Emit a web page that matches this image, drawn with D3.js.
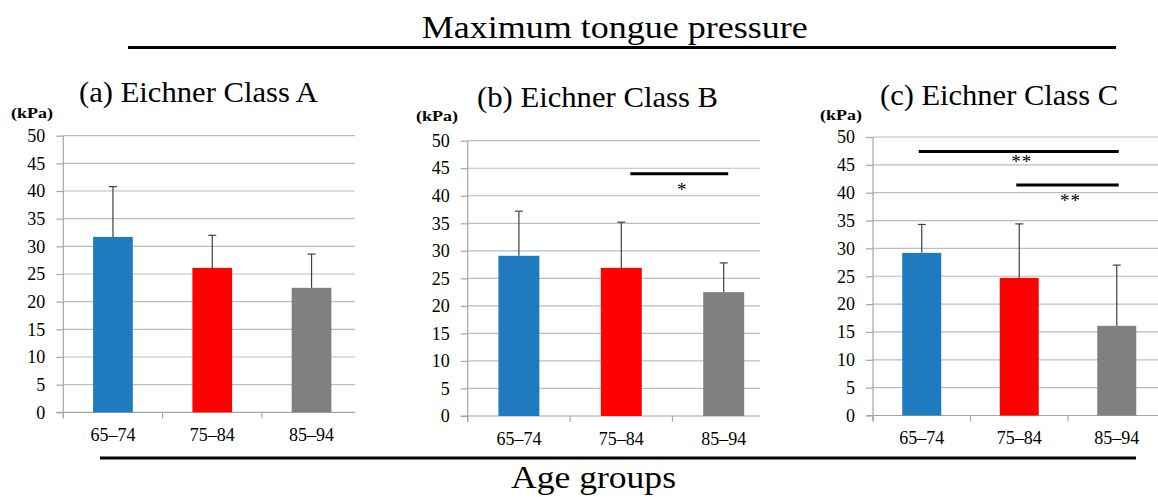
<!DOCTYPE html>
<html>
<head>
<meta charset="utf-8">
<script src="https://cdn.jsdelivr.net/npm/d3@7"></script>
<style>
  html, body { margin: 0; padding: 0; background: #fff; }
  svg { display: block; }
  text { font-family: "Liberation Serif", "Times New Roman", serif; fill: #000; }
</style>
</head>
<body>
<svg id="chart" width="1158" height="497"></svg>
<script>
// ---------- DATA ----------
const categories = ["65–74", "75–84", "85–94"];
const panelTitles = ["(a) Eichner Class A", "(b) Eichner Class B", "(c) Eichner Class C"];
const yTicks = [0, 5, 10, 15, 20, 25, 30, 35, 40, 45, 50];
const meanA = [31.7, 26.1, 22.5];
const sdA   = [9.1, 5.9, 6.1];
const meanB = [29.1, 26.9, 22.5];
const sdB   = [8.1, 8.3, 5.3];
const meanC = [29.2, 24.7, 16.1];
const sdC   = [5.1, 9.7, 10.9];
const sigA = [];
const sigB = [{ from: "75–84", to: "85–94", level: 44.0, label: "*" }];
const sigC = [
  { from: "65–74", to: "85–94", level: 47.4, label: "**" },
  { from: "75–84", to: "85–94", level: 41.4, label: "**" }
];
const barColors = ["#1f7bbf", "#ff0000", "#808080"];
const mainTitle = "Maximum tongue pressure";
const xTitle = "Age groups";
const unitLabel = "(kPa)";

// ---------- LAYOUT ----------
const panels = [
  { means: meanA, sds: sdA, sig: sigA, title: panelTitles[0],
    left: 63.3, band: 99.3, y0: 412.3, y50: 135.7, gridEnd: 355,
    titleX: 79, titleW: 239, titleY: 102, kpaX: 11, kpaY: 118,
    sigDx: [0, 0], sigLabelDy: [] },
  { means: meanB, sds: sdB, sig: sigB, title: panelTitles[1],
    left: 467.7, band: 102.4, y0: 416, y50: 140.7, gridEnd: 760,
    titleX: 477, titleW: 241, titleY: 107, kpaX: 416, kpaY: 121,
    sigDx: [9, 4.5], sigLabelDy: [22] },
  { means: meanC, sds: sdC, sig: sigC, title: panelTitles[2],
    left: 873, band: 97.5, y0: 415.5, y50: 137, gridEnd: 1158,
    titleX: 880, titleW: 238, titleY: 105, kpaX: 820, kpaY: 120,
    sigDx: [-3, 2], sigLabelDy: [17, 22] }
];

const svg = d3.select("#chart");
const gridColor = "#bcbcbc";
const axisColor = "#a6a6a6";

panels.forEach((p) => {
  const g = svg.append("g");
  const x = d3.scaleBand().domain(categories)
    .range([p.left, p.left + 3 * p.band]).paddingInner(0.6).paddingOuter(0.3);
  const y = d3.scaleLinear().domain([0, 50]).range([p.y0, p.y50]);

  // gridlines
  g.selectAll("line.grid").data(yTicks.filter(t => t > 0)).join("line")
    .attr("x1", p.left).attr("x2", p.gridEnd)
    .attr("y1", d => y(d)).attr("y2", d => y(d))
    .attr("stroke", gridColor).attr("stroke-width", 1.2);

  // y axis
  const yAxis = d3.axisLeft(y).tickValues(yTicks).tickSize(7).tickPadding(11)
    .tickFormat(d3.format("d"));
  const ya = g.append("g").attr("transform", `translate(${p.left},0)`).call(yAxis)
    .attr("font-family", null).attr("font-size", null);
  ya.select(".domain").attr("stroke", axisColor).attr("stroke-width", 1.2)
    .attr("d", `M0,${p.y50}V${p.y0 + 6}`);
  ya.selectAll(".tick line").attr("stroke", axisColor).attr("stroke-width", 1.2);
  ya.selectAll(".tick text").style("font-size", "18px")
    .style("font-family", "'Liberation Serif', serif").attr("fill", "#000");

  // x axis
  const xa = g.append("g").attr("transform", `translate(0,${p.y0})`)
    .call(d3.axisBottom(x).tickSize(0).tickPadding(16))
    .attr("font-family", null).attr("font-size", null);
  xa.select(".domain").attr("stroke", axisColor).attr("stroke-width", 1.2)
    .attr("d", `M${p.left - 7},0H${p.gridEnd}`);
  xa.selectAll(".tick text").style("font-size", "18px")
    .style("font-family", "'Liberation Serif', serif").attr("fill", "#000");
  // category boundary ticks
  g.selectAll("line.bt").data(categories).join("line")
    .attr("x1", d => x(d) - (x.step() - x.bandwidth()) / 2)
    .attr("x2", d => x(d) - (x.step() - x.bandwidth()) / 2)
    .attr("y1", p.y0).attr("y2", p.y0 + 6)
    .attr("stroke", axisColor).attr("stroke-width", 1.2);

  // bars
  g.selectAll("rect.bar").data(categories).join("rect")
    .attr("x", d => x(d)).attr("width", x.bandwidth())
    .attr("y", (d, i) => y(p.means[i]))
    .attr("height", (d, i) => y(0) - y(p.means[i]))
    .attr("fill", (d, i) => barColors[i]);

  // error bars (upper only)
  const cx = d => x(d) + x.bandwidth() / 2;
  g.selectAll("line.err").data(categories).join("line")
    .attr("x1", cx).attr("x2", cx)
    .attr("y1", (d, i) => y(p.means[i]))
    .attr("y2", (d, i) => y(p.means[i] + p.sds[i]))
    .attr("stroke", "#404040").attr("stroke-width", 1.2);
  g.selectAll("line.cap").data(categories).join("line")
    .attr("x1", d => cx(d) - 4).attr("x2", d => cx(d) + 4)
    .attr("y1", (d, i) => y(p.means[i] + p.sds[i]))
    .attr("y2", (d, i) => y(p.means[i] + p.sds[i]))
    .attr("stroke", "#404040").attr("stroke-width", 1.2);

  // significance bars
  p.sig.forEach((s, k) => {
    const x1 = cx(s.from) + p.sigDx[0];
    const x2 = cx(s.to) + p.sigDx[1];
    g.append("line").attr("x1", x1).attr("x2", x2)
      .attr("y1", y(s.level)).attr("y2", y(s.level))
      .attr("stroke", "#000").attr("stroke-width", 3);
    g.append("text").attr("x", (x1 + x2) / 2 + 3).attr("y", y(s.level) + p.sigLabelDy[k])
      .attr("text-anchor", "middle").style("font-size", "19px")
      .style("font-family", "'Liberation Serif', serif").style("letter-spacing", "1px")
      .text(s.label);
  });

  // panel title
  g.append("text").attr("x", p.titleX).attr("y", p.titleY)
    .attr("textLength", p.titleW).attr("lengthAdjust", "spacingAndGlyphs")
    .style("font-size", "30px").text(p.title);

  // unit label
  g.append("text").attr("x", p.kpaX).attr("y", p.kpaY)
    .attr("textLength", 42).attr("lengthAdjust", "spacingAndGlyphs")
    .style("font-size", "14px").style("font-weight", "bold").text(unitLabel);
});

// main title and rules
svg.append("text").attr("x", 421.7).attr("y", 38)
  .attr("textLength", 386).attr("lengthAdjust", "spacingAndGlyphs")
  .style("font-size", "31px").text(mainTitle);
svg.append("line").attr("x1", 128).attr("x2", 1116).attr("y1", 47.5).attr("y2", 47.5)
  .attr("stroke", "#000").attr("stroke-width", 3);

svg.append("line").attr("x1", 100).attr("x2", 1136).attr("y1", 458).attr("y2", 458)
  .attr("stroke", "#000").attr("stroke-width", 3);
svg.append("text").attr("x", 511).attr("y", 488)
  .attr("textLength", 165).attr("lengthAdjust", "spacingAndGlyphs")
  .style("font-size", "31px").text(xTitle);
</script>
</body>
</html>
